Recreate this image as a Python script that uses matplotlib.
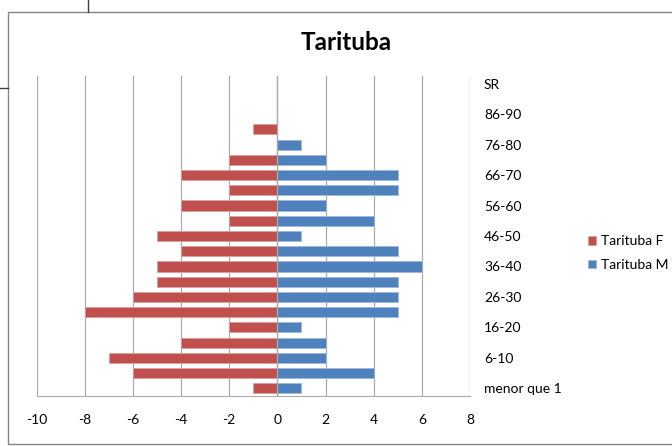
import numpy as np
import matplotlib
matplotlib.use('Agg')
import matplotlib.pyplot as plt
from matplotlib.patches import Rectangle
from matplotlib.lines import Line2D

plt.rcParams['font.family'] = ['Lato', 'DejaVu Sans']

# age groups, bottom to top
faixas = ['menor que 1', '1-5', '6-10', '11-15', '16-20', '21-25', '26-30',
          '31-35', '36-40', '41-45', '46-50', '51-55', '56-60', '61-65',
          '66-70', '71-75', '76-80', '81-85', '86-90', '91-95', 'SR']
feminino = [-1, -6, -7, -4, -2, -8, -6, -5, -5, -4, -5, -2, -4, -2,
            -4, -2, 0, -1, 0, 0, 0]
masculino = [1, 4, 2, 2, 1, 5, 5, 5, 6, 5, 1, 4, 2, 5,
             5, 2, 1, 0, 0, 0, 0]
xticks = [-10, -8, -6, -4, -2, 0, 2, 4, 6, 8]

W, H = 672, 446
fig = plt.figure(figsize=(W / 100, H / 100), dpi=100)
ax = fig.add_axes([36.5 / W, (H - 396) / H, (470 - 36.5) / W, (396 - 76) / H])

y = np.arange(len(faixas))
red = '#C0504D'
blue = '#4F81BD'
ax.barh(y, feminino, height=0.66, color=red, edgecolor='#D8A09E', linewidth=0.6,
        label='Tarituba F', zorder=3)
ax.barh(y, masculino, height=0.66, color=blue, edgecolor='#9DB8DA', linewidth=0.6,
        label='Tarituba M', zorder=3)

ax.set_xlim(-10, 8)
ax.set_ylim(-0.5, len(faixas) - 0.5)
ax.set_xticks(xticks)
ax.set_xticklabels([str(v) for v in xticks])
ax.set_yticks(y[::2])
ax.set_yticklabels(faixas[::2])
ax.yaxis.tick_right()
ax.tick_params(axis='y', length=0, pad=10, labelsize=10)
ax.tick_params(axis='x', length=0, pad=13, labelsize=10)
ax.grid(axis='x', color='#ABABAB', linewidth=0.9, zorder=0)
ax.axvline(0, color='#ABABAB', linewidth=0.9, zorder=4)
for s in ['top', 'left', 'right']:
    ax.spines[s].set_visible(False)
ax.spines['bottom'].set_color('#ABABAB')

fig.text(346 / W, 1 - 42 / H, 'Tarituba', ha='center', va='center',
         fontsize=17.5, fontweight='bold')

fig.legend(loc='center left', bbox_to_anchor=(575 / W, 1 - 253 / H),
           frameon=False, fontsize=10, handlelength=0.6, handleheight=0.6,
           handletextpad=0.4, labelspacing=0.85)

# chart frame and leftover sheet lines
fig.patches.append(Rectangle((8 / W, 1 - 444 / H), 700 / W, 432 / H,
                             transform=fig.transFigure, fill=False,
                             edgecolor='#868686', linewidth=1))
fig.lines.append(Line2D([88 / W, 88 / W], [1, 1 - 12 / H],
                        transform=fig.transFigure, color='#404040', linewidth=1))
fig.lines.append(Line2D([0, 8 / W], [1 - 88 / H, 1 - 88 / H],
                        transform=fig.transFigure, color='#404040', linewidth=1))

fig.savefig('out.png', dpi=100)
